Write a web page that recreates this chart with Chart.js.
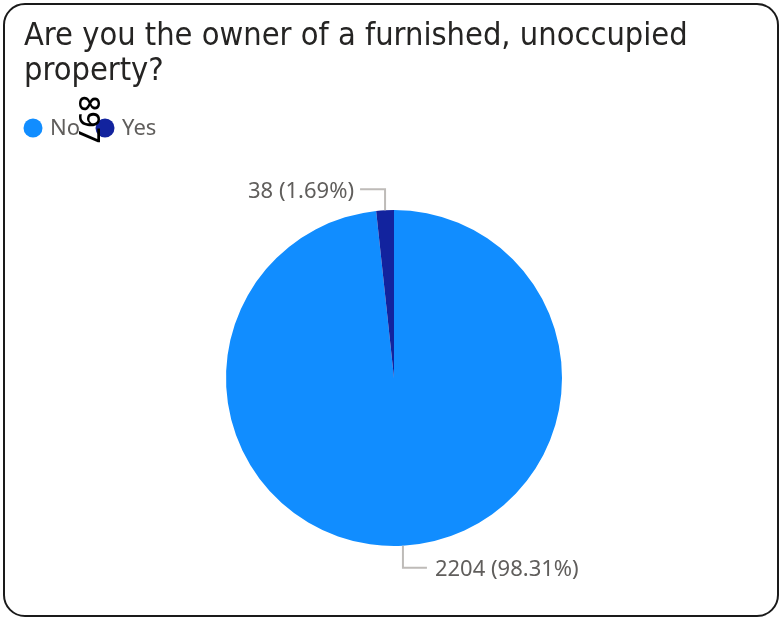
<!DOCTYPE html>
<html>
<head>
<meta charset="utf-8">
<script src="https://cdn.jsdelivr.net/npm/chart.js@4.4.1/dist/chart.umd.min.js"></script>
<style>
  html, body { margin: 0; padding: 0; background: #fff; }
  #wrap { position: relative; width: 781px; height: 620px; }
  #frame {
    position: absolute; left: 3px; top: 3px; width: 772px; height: 610px;
    border: 2px solid #1a1a1a; border-radius: 22px; pointer-events: none;
  }
  canvas { position: absolute; left: 0; top: 0; }
</style>
</head>
<body>
<div id="wrap">
  <canvas id="pieChart" width="781" height="620"></canvas>
  <div id="frame"></div>
</div>
<script>
// pie data
const categories = ['No', 'Yes'];
const counts = [2204, 38];
const sliceColors = ['#118DFF', '#12239E'];
const titleLines = ['Are you the owner of a furnished, unoccupied', 'property?'];
const strayMark = '897';

const total = counts.reduce((a, b) => a + b, 0);
const labelText = counts.map(v => `${v} (${(v / total * 100).toFixed(2)}%)`);

// title + legend drawn at fixed spots in the header
const headerPlugin = {
    id: 'header',
    afterDraw(chart) {
        const ctx = chart.ctx;
        ctx.save();
        ctx.fillStyle = '#252423';
        ctx.font = '32.3px "DejaVu Sans Condensed", sans-serif';
        ctx.textBaseline = 'alphabetic';
        ctx.textAlign = 'left';
        ctx.fillText(titleLines[0], 24, 45);
        ctx.fillText(titleLines[1], 24, 80);

        // legend
        ctx.font = '22px "Noto Sans", sans-serif';
        ctx.textBaseline = 'middle';
        let x = 24;
        categories.forEach((name, i) => {
            ctx.fillStyle = sliceColors[i];
            ctx.beginPath();
            ctx.arc(x + 9, 128, 9.5, 0, Math.PI * 2);
            ctx.fill();
            ctx.fillStyle = '#605E5C';
            ctx.fillText(name, x + 26, 129);
            x += 26 + ctx.measureText(name).width + 16;
        });

        // rotated number sitting over the legend
        ctx.translate(88, 119.5);
        ctx.rotate(Math.PI / 2);
        ctx.fillStyle = '#000';
        ctx.font = '500 28px "Noto Sans", sans-serif';
        ctx.textAlign = 'center';
        ctx.fillText(strayMark, 0, 1);
        ctx.restore();
    }
};

// elbow leader lines + value labels
const leaderPlugin = {
    id: 'leaders',
    afterDatasetsDraw(chart) {
        const ctx = chart.ctx;
        const arcs = chart.getDatasetMeta(0).data;
        ctx.save();
        ctx.font = '22px "Noto Sans", sans-serif';
        ctx.textBaseline = 'middle';
        arcs.forEach((arc, i) => {
            const p = arc.getProps(['x', 'y', 'startAngle', 'endAngle', 'outerRadius'], true);
            const mid = (p.startAngle + p.endAngle) / 2;
            const ex = p.x + Math.cos(mid) * p.outerRadius;
            const ey = p.y + Math.sin(mid) * p.outerRadius;
            const up = ey < p.y;
            const ly = up ? ey - 21 : ey + 22;
            const lx = ex < p.x ? ex - 25 : ex + 24;
            ctx.strokeStyle = '#BEBBB8';
            ctx.lineWidth = 2;
            ctx.beginPath();
            ctx.moveTo(ex, ey);
            ctx.lineTo(ex, ly);
            ctx.lineTo(lx, ly);
            ctx.stroke();
            ctx.fillStyle = '#605E5C';
            if (ex < p.x) {
                ctx.textAlign = 'right';
                ctx.fillText(labelText[i], lx - 6, ly + 2);
            } else {
                ctx.textAlign = 'left';
                ctx.fillText(labelText[i], lx + 8, ly + 2);
            }
        });
        ctx.restore();
    }
};

const ctx = document.getElementById('pieChart').getContext('2d');
const pieChart = new Chart(ctx, {
    type: 'pie',
    data: {
        labels: categories,
        datasets: [{
            data: counts,
            backgroundColor: sliceColors,
            borderWidth: 0
        }]
    },
    options: {
        responsive: false,
        animation: false,
        layout: {
            padding: { left: 20, right: 13, top: 210, bottom: 74 }
        },
        plugins: {
            legend: { display: false },
            title: { display: false },
            tooltip: { enabled: false }
        }
    },
    plugins: [headerPlugin, leaderPlugin]
});
</script>
</body>
</html>
